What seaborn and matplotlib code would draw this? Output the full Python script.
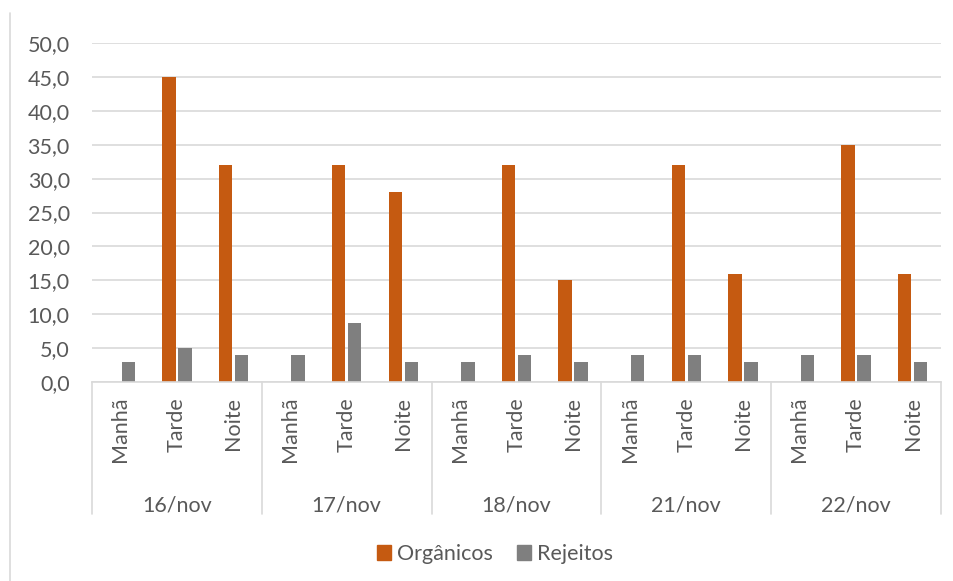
import numpy as np
import pandas as pd
import matplotlib.pyplot as plt
import matplotlib.patches as mpatches
import matplotlib.transforms as mtransforms
import seaborn as sns

# --- data ---------------------------------------------------------------
days = ["16/nov", "17/nov", "18/nov", "21/nov", "22/nov"]
shifts = ["Manhã", "Tarde", "Noite"]
organicos = [0, 45, 32, 0, 32, 28, 0, 32, 15, 0, 32, 16, 0, 35, 16]
rejeitos = [3, 5, 4, 4, 8.7, 3, 3, 4, 3, 4, 4, 3, 4, 4, 3]

COLORS = {"Orgânicos": "#C55A11", "Rejeitos": "#7F7F7F"}
TEXT = "#595959"
GRID = "#D9D9D9"
FS = 15.5

cats = ["{} {}".format(d, s) for d in days for s in shifts]
df = pd.DataFrame({
    "cat": cats * 2,
    "serie": ["Orgânicos"] * len(cats) + ["Rejeitos"] * len(cats),
    "valor": organicos + rejeitos,
})

sns.set_theme(style="white")
plt.rcParams["font.family"] = ["Lato", "DejaVu Sans"]

W, H = 954, 581
fig = plt.figure(figsize=(W / 100, H / 100), dpi=100)
ax = fig.add_axes([92 / W, 1 - 382 / H, (941 - 92) / W, (382 - 43) / H])

sns.barplot(data=df, x="cat", y="valor", hue="serie", order=cats,
            palette=COLORS, width=0.57, gap=0.17, ax=ax, legend=False,
            errorbar=None, saturation=1, linewidth=0)

ax.set_xlim(-0.5, len(cats) - 0.5)
ax.set_ylim(0, 50)
ax.set_yticks(np.arange(0, 51, 5))
ax.set_yticklabels(["{:.1f}".format(v).replace(".", ",") for v in np.arange(0, 51, 5)])
ax.tick_params(axis="y", length=0, pad=16, labelsize=FS, labelcolor=TEXT)
ax.set_xticks([])
ax.set_xlabel("")
ax.set_ylabel("")
ax.grid(axis="y", color=GRID, linewidth=1.2)
ax.set_axisbelow(True)
for s in ["top", "right", "left"]:
    ax.spines[s].set_visible(False)
ax.spines["bottom"].set_color(GRID)
ax.spines["bottom"].set_linewidth(1.2)

# multi-level category axis
tr = mtransforms.blended_transform_factory(ax.transData, fig.transFigure)
for i, c in enumerate(cats):
    ax.text(i, 1 - 397 / H, shifts[i % 3], rotation=90, ha="center", va="top",
            fontsize=FS, color=TEXT, transform=tr)
for j, d in enumerate(days):
    ax.text(j * 3 + 1, 1 - 505 / H, d, ha="center", va="center",
            fontsize=FS, color=TEXT, transform=tr)
for k in range(len(days) + 1):
    ax.plot([k * 3 - 0.5] * 2, [1 - 382 / H, 1 - 514 / H], color=GRID,
            linewidth=1.2, transform=tr, clip_on=False)

# chart border (left edge visible)
fig.add_artist(plt.Line2D([10 / W, 10 / W], [0, 1 - 13 / H], color=GRID,
                          linewidth=1.2, transform=fig.transFigure))

handles = [mpatches.Patch(color=COLORS[k], label=k) for k in COLORS]
fig.legend(handles=handles, loc="center", bbox_to_anchor=(495 / W, 1 - 554 / H),
           ncol=2, frameon=False, fontsize=FS, labelcolor=TEXT,
           handlelength=0.65, handleheight=0.65, handletextpad=0.3,
           columnspacing=1.1)

fig.savefig("out.png", dpi=100, facecolor="white")
